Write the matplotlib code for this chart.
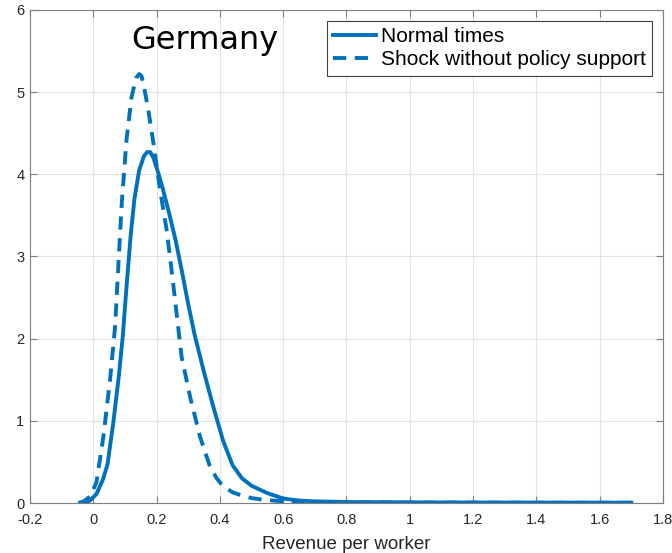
import matplotlib.pyplot as plt
import numpy as np

# densite du revenu par travailleur, Allemagne
normal_x = [-0.03, -0.01, 0.01, 0.03, 0.045, 0.063, 0.08, 0.093, 0.105, 0.118, 0.13, 0.145,
            0.16, 0.17, 0.18, 0.19, 0.205, 0.22, 0.24, 0.26, 0.28, 0.30, 0.32, 0.35, 0.38,
            0.41, 0.44, 0.47, 0.50, 0.55, 0.60, 0.65, 0.70, 0.80, 1.0, 1.2, 1.4, 1.7]
normal_y = [0.0, 0.03, 0.11, 0.28, 0.47, 0.97, 1.52, 2.02, 2.63, 3.25, 3.70, 4.05,
            4.22, 4.27, 4.27, 4.20, 4.02, 3.82, 3.52, 3.20, 2.82, 2.42, 2.05, 1.59, 1.16,
            0.76, 0.46, 0.30, 0.21, 0.12, 0.055, 0.03, 0.02, 0.012, 0.008, 0.006, 0.005, 0.004]

shock_x = [-0.047, -0.03, -0.01, 0.01, 0.032, 0.053, 0.069, 0.078, 0.09, 0.105, 0.121, 0.135,
           0.145, 0.152, 0.158, 0.174, 0.19, 0.211, 0.232, 0.25, 0.279, 0.306, 0.337, 0.369,
           0.39, 0.411, 0.44, 0.463, 0.50, 0.537, 0.60, 0.70, 1.0, 1.7]
shock_y = [0.0, 0.02, 0.08, 0.25, 0.81, 1.50, 2.15, 2.80, 3.65, 4.42, 4.94, 5.17,
           5.22, 5.20, 5.11, 4.78, 4.38, 3.81, 3.32, 2.75, 1.78, 1.29, 0.81, 0.44,
           0.30, 0.20, 0.13, 0.10, 0.06, 0.04, 0.02, 0.01, 0.005, 0.003]

xticks = [-0.2, 0, 0.2, 0.4, 0.6, 0.8, 1, 1.2, 1.4, 1.6, 1.8]
xticklabels = ["-0.2", "0", "0.2", "0.4", "0.6", "0.8", "1", "1.2", "1.4", "1.6", "1.8"]
yticks = [0, 1, 2, 3, 4, 5, 6]

bleu = "#0072BD"
gris = "#262626"

plt.rcParams["font.family"] = ["Liberation Sans", "DejaVu Sans"]

fig = plt.figure(figsize=(6.72, 5.53), dpi=100)
ax = fig.add_axes([0.0446, 0.0904, 0.942, 0.8916])

ax.plot(normal_x, normal_y, color=bleu, linewidth=2.8, label="Normal times")
ax.plot(shock_x, shock_y, color=bleu, linewidth=2.8, dashes=(3.4, 2.2),
        label="Shock without policy support")

ax.set_xlim(-0.2, 1.8)
ax.set_ylim(0, 6)
ax.set_xticks(xticks)
ax.set_xticklabels(xticklabels)
ax.set_yticks(yticks)
ax.grid(True, color="#e3e3e3", linewidth=0.8)
ax.set_axisbelow(True)

ax.tick_params(direction="in", length=5, width=0.8, top=True, right=True,
               labelsize=10.5, labelcolor=gris, color="#7f7f7f")
ax.tick_params(axis="x", pad=7)
ax.tick_params(axis="y", pad=4)
for s in ax.spines.values():
    s.set_color("#7f7f7f")
    s.set_linewidth(0.8)

ax.set_xlabel("Revenue per worker", fontsize=13.5, color=gris, labelpad=7)

ax.text(0.353, 5.63, "Germany", fontsize=23, family="DejaVu Sans",
        ha="center", va="center", color="black")

leg = ax.legend(loc="upper right", bbox_to_anchor=(0.9826, 0.9777), fontsize=15,
                handlelength=2.05, handletextpad=0.25, borderpad=0.3, labelspacing=0.2,
                borderaxespad=0, fancybox=False, framealpha=1, edgecolor="#404040")
leg.get_frame().set_linewidth(0.8)

fig.savefig("out.png", dpi=100)
